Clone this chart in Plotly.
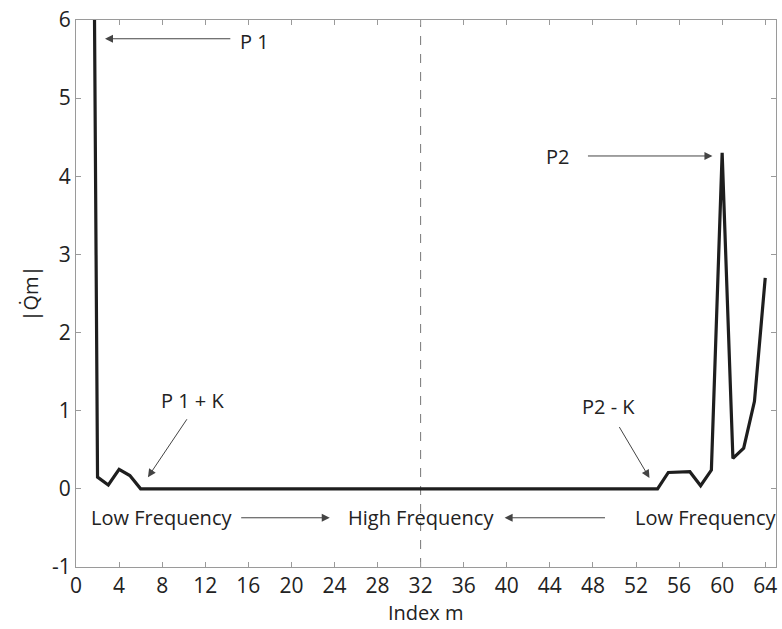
import plotly.graph_objects as go

# ---- data ----
index_m = list(range(1, 65))
q_mag = ([21.0, 0.15, 0.05, 0.25, 0.17] + [0.0] * 49 +
         [0.21, 0.21, 0.22, 0.04, 0.24, 4.30, 0.39, 0.52, 1.12, 2.70])
x_ticks = list(range(0, 65, 4))
y_ticks = list(range(-1, 7))
y_tick_text = ["-1", "0", "1", "2", "3", "4", "5", "6"]

TICK_FONT = dict(family="Liberation Sans Narrow, Open Sans, sans-serif", size=21, color="#222")
ANN_FONT = dict(family="Open Sans, sans-serif", size=20, color="#222")
GREY = "#9a9a9a"

fig = go.Figure()
fig.add_trace(go.Scatter(x=index_m, y=q_mag, mode="lines",
                         line=dict(color="#1e1e1e", width=3.2), showlegend=False))

fig.add_shape(type="line", x0=32, x1=32, y0=-1, y1=6, xref="x", yref="y",
              line=dict(color="#777", width=1, dash="dash"), layer="below")

texts = [
    ("P 1", 16.6, 5.72),
    ("P2", 44.7, 4.25),
    ("P 1 + K", 10.85, 1.13),
    ("P2 - K", 49.4, 1.05),
    ("Low Frequency", 7.98, -0.37),
    ("High Frequency", 32.0, -0.37),
    ("Low Frequency", 58.44, -0.37),
]
for t, x, y in texts:
    fig.add_annotation(x=x, y=y, text=t, showarrow=False, font=ANN_FONT,
                       xanchor="center", yanchor="middle")

arrows = [
    # head x, head y, tail x, tail y
    (2.69, 5.76, 14.47, 5.76),
    (59.1, 4.26, 47.4, 4.26),
    (6.68, 0.15, 10.39, 0.91),
    (53.25, 0.14, 50.37, 0.81),
    (23.56, -0.37, 15.2, -0.37),
    (39.8, -0.37, 49.26, -0.37),
]
for hx, hy, tx, ty in arrows:
    fig.add_annotation(x=hx, y=hy, ax=tx, ay=ty, xref="x", yref="y",
                       axref="x", ayref="y", text="", showarrow=True,
                       arrowhead=2, arrowsize=1.6, arrowwidth=1,
                       arrowcolor="#444")

fig.add_annotation(text="|Q̇m|", xref="paper", yref="paper", x=0, y=0.5,
                   xanchor="center", yanchor="middle",
                   xshift=-46, textangle=-90, showarrow=False, font=ANN_FONT)
fig.add_annotation(text="Index m", xref="paper", yref="paper", x=0.5, y=0,
                   xanchor="center", yanchor="middle",
                   yshift=-45, showarrow=False, font=ANN_FONT)

fig.update_xaxes(range=[0, 65], tickvals=x_ticks, ticks="inside", ticklen=5,
                 tickcolor=GREY, showline=True, linecolor=GREY, linewidth=1,
                 mirror="ticks", showgrid=False, zeroline=False,
                 tickfont=TICK_FONT)
fig.update_yaxes(range=[-1, 6], tickvals=y_ticks, ticktext=y_tick_text,
                 ticks="inside", ticklen=5,
                 tickcolor=GREY, showline=True, linecolor=GREY, linewidth=1,
                 mirror="ticks", showgrid=False, zeroline=False,
                 tickfont=TICK_FONT)

fig.update_layout(width=782, height=629, plot_bgcolor="white", paper_bgcolor="white",
                  margin=dict(l=76, r=5, t=15, b=62))

fig.write_html("out.html")
